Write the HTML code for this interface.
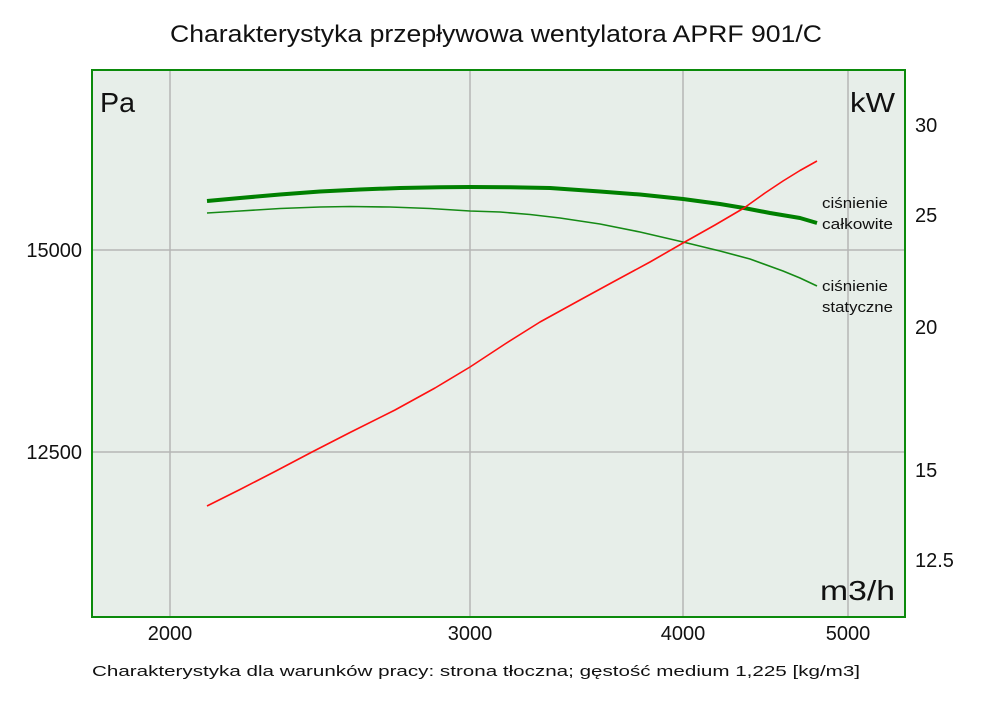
<!DOCTYPE html>
<html>
<head>
<meta charset="utf-8">
<style>
html,body{margin:0;padding:0;background:#ffffff;}
svg{display:block;}
text{font-family:"Liberation Sans",sans-serif;fill:#111;}
</style>
</head>
<body>
<svg width="1000" height="706" viewBox="0 0 1000 706" xmlns="http://www.w3.org/2000/svg">
  <rect x="0" y="0" width="1000" height="706" fill="#ffffff"/>
  <!-- title -->
  <text x="170" y="42" font-size="24" textLength="652" lengthAdjust="spacingAndGlyphs">Charakterystyka przepływowa wentylatora APRF 901/C</text>

  <!-- plot area -->
  <rect x="92" y="70" width="813" height="547" fill="#e7eee9"/>
  <!-- grid -->
  <g stroke="#b5b5b5" stroke-width="1.5">
    <line x1="170" y1="70" x2="170" y2="617"/>
    <line x1="470" y1="70" x2="470" y2="617"/>
    <line x1="683" y1="70" x2="683" y2="617"/>
    <line x1="848" y1="70" x2="848" y2="617"/>
    <line x1="92" y1="250" x2="905" y2="250"/>
    <line x1="92" y1="452" x2="905" y2="452"/>
  </g>

  <!-- curves -->
  <polyline fill="none" stroke="#008000" stroke-width="4" stroke-linejoin="round"
    points="207,201 240,198 280,194.5 320,191.5 360,189.5 400,188 440,187.2 470,187 510,187.3 550,188 600,191.5 640,194.5 683,199 720,204 744,208 770,213 800,218 817,223"/>
  <polyline fill="none" stroke="#158a15" stroke-width="1.6" stroke-linejoin="round"
    points="207,213 240,211 280,208.5 320,207 350,206.5 390,207 430,208.5 470,211 500,212 530,214.5 560,218 600,224 640,232 683,242 720,251 750,259 783,271 800,278 817,286"/>
  <polyline fill="none" stroke="#ff1010" stroke-width="1.6" stroke-linejoin="round"
    points="207,506 240,489.5 275,471.5 312,452 350,432.5 395,410 435,388 470,367 505,344 540,322 580,300 613,282 650,262 683,243 715,225 744,208 765,193 783,181 800,170.5 817,161"/>

  <!-- frame -->
  <rect x="92" y="70" width="813" height="547" fill="none" stroke="#0b8a0b" stroke-width="2"/>

  <!-- inner axis units -->
  <text x="100" y="112" font-size="28" textLength="35" lengthAdjust="spacingAndGlyphs">Pa</text>
  <text x="850" y="112" font-size="28" textLength="45" lengthAdjust="spacingAndGlyphs">kW</text>
  <text x="820" y="600" font-size="28" textLength="75" lengthAdjust="spacingAndGlyphs">m3/h</text>

  <!-- legend labels -->
  <text x="822" y="208" font-size="15" textLength="66" lengthAdjust="spacingAndGlyphs">ciśnienie</text>
  <text x="822" y="229" font-size="15" textLength="71" lengthAdjust="spacingAndGlyphs">całkowite</text>
  <text x="822" y="291" font-size="15" textLength="66" lengthAdjust="spacingAndGlyphs">ciśnienie</text>
  <text x="822" y="312" font-size="15" textLength="71" lengthAdjust="spacingAndGlyphs">statyczne</text>

  <!-- left axis labels -->
  <text x="82" y="257" font-size="20" text-anchor="end">15000</text>
  <text x="82" y="459" font-size="20" text-anchor="end">12500</text>

  <!-- right axis labels -->
  <text x="915" y="132" font-size="20">30</text>
  <text x="915" y="222" font-size="20">25</text>
  <text x="915" y="334" font-size="20">20</text>
  <text x="915" y="477" font-size="20">15</text>
  <text x="915" y="567" font-size="20">12.5</text>

  <!-- bottom axis labels -->
  <text x="170" y="640" font-size="20" text-anchor="middle">2000</text>
  <text x="470" y="640" font-size="20" text-anchor="middle">3000</text>
  <text x="683" y="640" font-size="20" text-anchor="middle">4000</text>
  <text x="848" y="640" font-size="20" text-anchor="middle">5000</text>

  <!-- footer -->
  <text x="92" y="676" font-size="15" textLength="768" lengthAdjust="spacingAndGlyphs">Charakterystyka dla warunków pracy: strona tłoczna; gęstość medium 1,225 [kg/m3]</text>
</svg>
</body>
</html>
